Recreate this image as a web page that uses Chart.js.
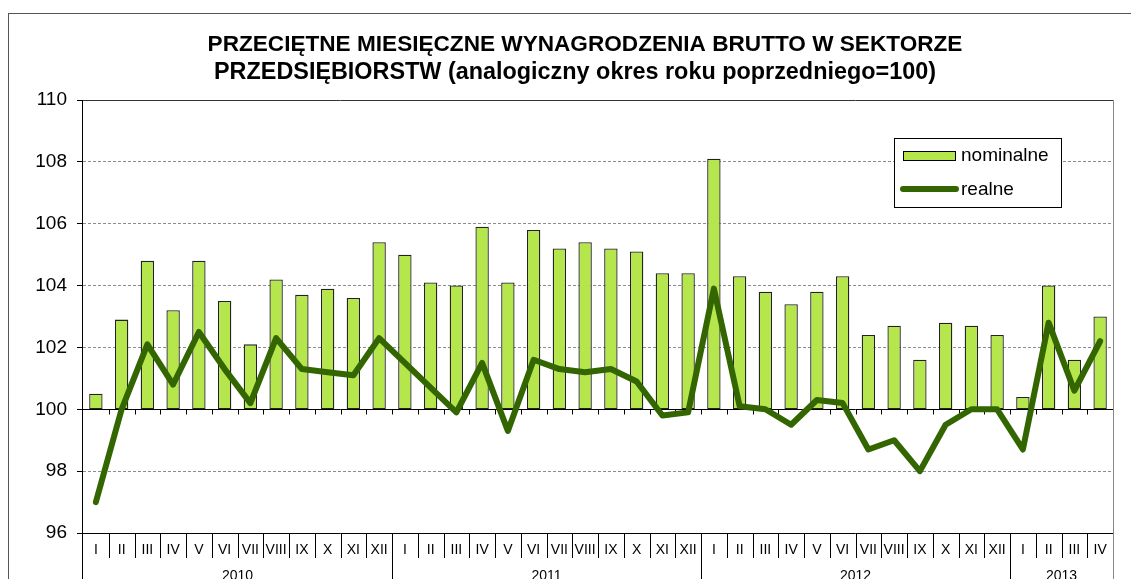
<!DOCTYPE html>
<html>
<head>
<meta charset="utf-8">
<script src="https://cdn.jsdelivr.net/npm/chart.js@4/dist/chart.umd.min.js"></script>
<style>
  body { margin: 0; background: #fff; }
  #wrap { width: 1131px; height: 579px; }
</style>
</head>
<body>
<div id="wrap"><canvas id="chart" width="1131" height="579"></canvas></div>
<script>
// months of each year, roman numerals
const months = ["I","II","III","IV","V","VI","VII","VIII","IX","X","XI","XII"];
const years = ["2010", "2011", "2012", "2013"];
const monthsPerYear = [12, 12, 12, 4];

const nominalne = [
  100.5, 102.9, 104.8, 103.2, 104.8, 103.5, 102.1, 104.2, 103.7, 103.9, 103.6, 105.4,
  105.0, 104.1, 104.0, 105.9, 104.1, 105.8, 105.2, 105.4, 105.2, 105.1, 104.4, 104.4,
  108.1, 104.3, 103.8, 103.4, 103.8, 104.3, 102.4, 102.7, 101.6, 102.8, 102.7, 102.4,
  100.4, 104.0, 101.6, 103.0
];
const realne = [
  97.0, 100.0, 102.1, 100.8, 102.5, 101.3, 100.2, 102.3, 101.3, 101.2, 101.1, 102.3,
  101.5, 100.7, 99.9, 101.5, 99.3, 101.6, 101.3, 101.2, 101.3, 100.9, 99.8, 99.9,
  103.9, 100.1, 100.0, 99.5, 100.3, 100.2, 98.7, 99.0, 98.0, 99.5, 100.0, 100.0,
  98.7, 102.8, 100.6, 102.2
];
const baseValue = 100;
const titleLines = [
  "PRZECIĘTNE MIESIĘCZNE WYNAGRODZENIA BRUTTO W SEKTORZE",
  "PRZEDSIĘBIORSTW (analogiczny okres roku poprzedniego=100)"
];

const barColor = "#b5e64b";
const lineColor = "#336600";

// category labels: one per month
let labels = [];
years.forEach((y, i) => {
  for (let m = 0; m < monthsPerYear[i]; m++) {
    labels.push(months[m]);
  }
});

const fontName = "'Liberation Sans', Arial, sans-serif";

const decorPlugin = {
  id: "decor",
  beforeDatasetsDraw(chart) {
    const ctx = chart.ctx;
    const area = chart.chartArea;
    const y = chart.scales.y;
    const yBase = Math.round(y.getPixelForValue(baseValue)) + 0.5;
    const step = (area.right - area.left) / labels.length;
    ctx.save();
    // the horizontal axis crosses at 100
    ctx.strokeStyle = "#000";
    ctx.lineWidth = 1;
    ctx.beginPath();
    ctx.moveTo(area.left, yBase);
    ctx.lineTo(area.right, yBase);
    for (let i = 1; i <= labels.length; i++) {
      const bx = Math.round(area.left + i * step) + 0.5;
      ctx.moveTo(bx, yBase);
      ctx.lineTo(bx, yBase + 5);
    }
    ctx.stroke();
    ctx.restore();
  },
  afterDraw(chart) {
    const ctx = chart.ctx;
    const area = chart.chartArea;
    const x = chart.scales.x;
    const step = (area.right - area.left) / labels.length;
    const bottom = chart.height;
    ctx.save();

    // outer frame
    ctx.strokeStyle = "#555";
    ctx.lineWidth = 1;
    ctx.strokeRect(8.5, 13.5, 1140, 600);

    // plot frame
    ctx.strokeStyle = "#333";
    ctx.beginPath();
    ctx.moveTo(area.left, area.top + 0.5);
    ctx.lineTo(area.right, area.top + 0.5);
    ctx.stroke();
    ctx.strokeStyle = "#888";
    ctx.beginPath();
    ctx.moveTo(area.right + 0.5, area.top);
    ctx.lineTo(area.right + 0.5, bottom);
    ctx.stroke();
    ctx.strokeStyle = "#000";
    ctx.beginPath();
    ctx.moveTo(area.left - 0.5, area.top);
    ctx.lineTo(area.left - 0.5, bottom);
    ctx.moveTo(area.left, area.bottom + 0.5);
    ctx.lineTo(area.right, area.bottom + 0.5);
    ctx.stroke();

    // month boxes and year groups
    ctx.beginPath();
    let count = 0;
    monthsPerYear.forEach((n) => {
      for (let m = 1; m <= n; m++) {
        count++;
        if (count === labels.length) continue;
        const bx = Math.round(area.left + count * step) + 0.5;
        ctx.moveTo(bx, area.bottom);
        ctx.lineTo(bx, m === n ? bottom : area.bottom + 25);
      }
    });
    ctx.stroke();

    ctx.fillStyle = "#000";
    ctx.textAlign = "center";
    ctx.textBaseline = "middle";
    ctx.font = "14px " + fontName;
    labels.forEach((lab, i) => {
      ctx.fillText(lab, x.getPixelForValue(i), area.bottom + 17);
    });
    let start = 0;
    monthsPerYear.forEach((n, yi) => {
      const cx = area.left + (start + n / 2) * step;
      ctx.fillText(years[yi], cx, area.bottom + 43);
      start += n;
    });

    // title
    ctx.font = "bold 22.6px " + fontName;
    ctx.fillText(titleLines[0], 585, 45);
    ctx.font = "bold 23.4px " + fontName;
    ctx.fillText(titleLines[1], 575, 73);

    // legend
    const barSet = chart.data.datasets.find(d => d.type === "bar");
    const lineSet = chart.data.datasets.find(d => d.type === "line");
    const lx = 894, ly = 138;
    ctx.fillStyle = "#fff";
    ctx.fillRect(lx, ly, 167, 69);
    ctx.strokeStyle = "#000";
    ctx.strokeRect(lx + 0.5, ly + 0.5, 167, 69);
    ctx.fillStyle = barSet.backgroundColor;
    ctx.fillRect(903, 151, 52, 9);
    ctx.strokeStyle = "#000";
    ctx.strokeRect(903.5, 151.5, 52, 9);
    ctx.strokeStyle = lineSet.borderColor;
    ctx.lineWidth = 6;
    ctx.lineCap = "round";
    ctx.beginPath();
    ctx.moveTo(903, 189);
    ctx.lineTo(956, 189);
    ctx.stroke();
    ctx.fillStyle = "#000";
    ctx.textAlign = "left";
    ctx.font = "19px " + fontName;
    ctx.fillText(barSet.label, 961, 156);
    ctx.fillText(lineSet.label, 961, 190);
    ctx.restore();
  }
};

new Chart(document.getElementById("chart"), {
  data: {
    labels: labels,
    datasets: [
      {
        type: "line",
        label: "realne",
        data: realne,
        borderColor: lineColor,
        borderWidth: 6,
        pointRadius: 0,
        tension: 0,
        borderJoinStyle: "round",
        borderCapStyle: "round",
        order: 0
      },
      {
        type: "bar",
        label: "nominalne",
        data: nominalne.map(v => [baseValue, v]),
        backgroundColor: barColor,
        borderColor: "#222",
        borderWidth: 1.3,
        borderSkipped: false,
        barPercentage: 0.52,
        categoryPercentage: 1,
        order: 1
      }
    ]
  },
  options: {
    responsive: false,
    animation: false,
    layout: { padding: { left: 0, right: 18, top: 100, bottom: 46 } },
    plugins: {
      legend: { display: false },
      title: { display: false },
      tooltip: { enabled: false }
    },
    scales: {
      x: {
        display: false,
        offset: true
      },
      y: {
        min: 96,
        max: 110,
        afterFit(scale) { scale.width = 83; },
        ticks: {
          stepSize: 2,
          padding: 10,
          color: "#000",
          font: { size: 19, family: fontName }
        },
        border: { display: false, dash: [3, 2] },
        grid: {
          color: (c) => {
            const v = c.tick ? c.tick.value : null;
            return (v === 96 || v === 100 || v === 110) ? "rgba(0,0,0,0)" : "#8c8c8c";
          },
          tickColor: "#000",
          tickLength: 6
        }
      }
    }
  },
  plugins: [decorPlugin]
});
</script>
</body>
</html>
